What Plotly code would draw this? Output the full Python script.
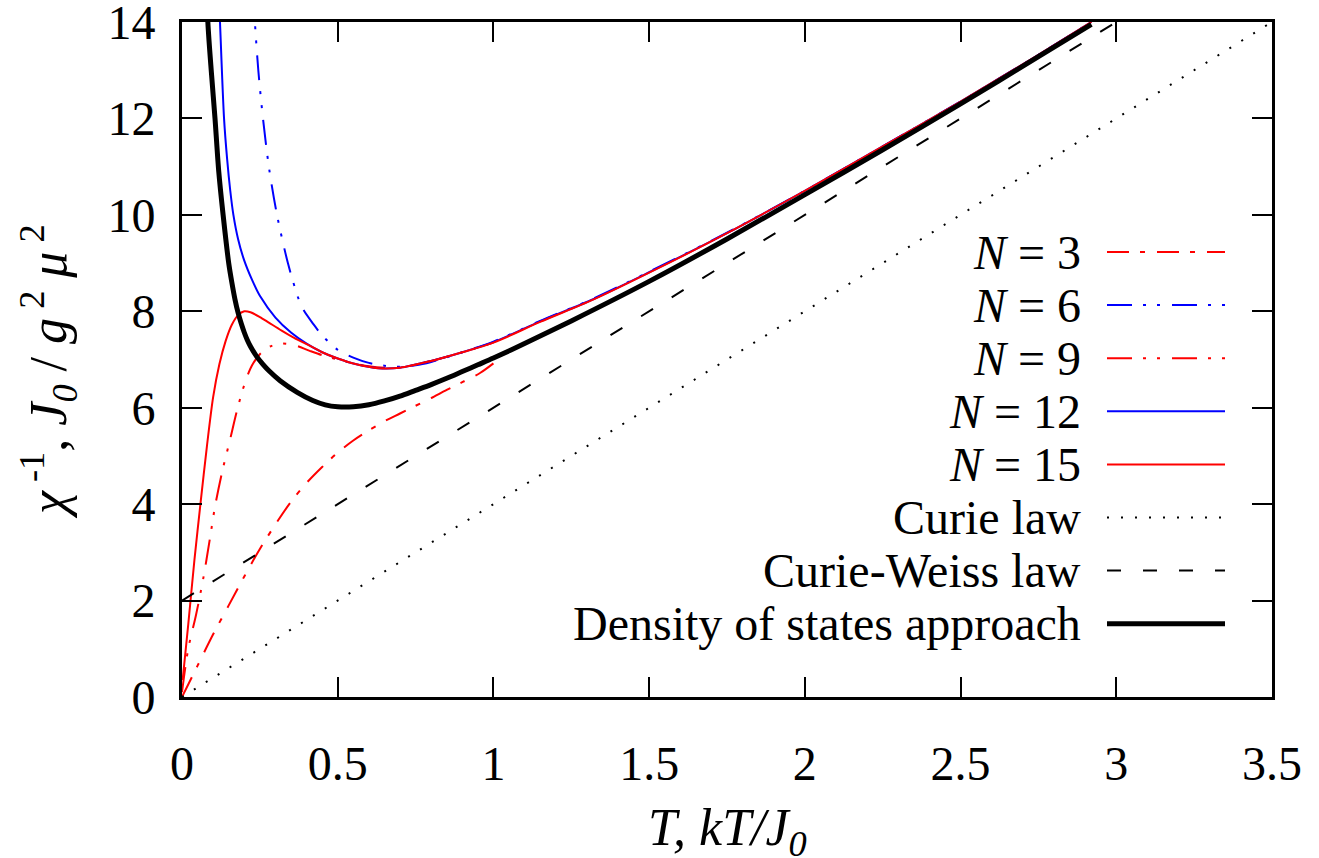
import plotly.graph_objects as go

# ---------------- data ----------------
T_n3 = [0.0, 0.05, 0.1, 0.15, 0.2, 0.25, 0.3, 0.35, 0.4, 0.45, 0.5, 0.55, 0.6, 0.65, 0.7, 0.75, 0.8, 0.85, 0.9, 0.957, 1.0]
chi_n3 = [0.0, 0.65, 1.3, 1.9, 2.5, 3.07, 3.58, 4.05, 4.44, 4.77, 5.07, 5.32, 5.53, 5.72, 5.88, 6.04, 6.2, 6.37, 6.53, 6.72, 6.92]

T_n6 = [0.215, 0.234, 0.245, 0.26, 0.28, 0.305, 0.34, 0.373, 0.39, 0.42, 0.45, 0.5, 0.55, 0.6, 0.65, 0.69, 0.75, 0.8, 0.9, 1.0, 1.15, 1.32, 1.5, 1.75, 2.0, 2.25, 2.5, 2.75, 2.92]
chi_n6 = [16.0, 14.0, 13.0, 12.0, 10.95, 10.0, 9.0, 8.28, 8.03, 7.75, 7.5, 7.2, 7.04, 6.93, 6.87, 6.85, 6.88, 6.95, 7.15, 7.37, 7.8, 8.26, 8.82, 9.63, 10.5, 11.42, 12.35, 13.32, 14.0]

T_n9 = [0.0, 0.02, 0.045, 0.068, 0.09, 0.106, 0.13, 0.154, 0.175, 0.193, 0.21, 0.225, 0.25, 0.283, 0.32, 0.36, 0.41, 0.45, 0.5, 0.55, 0.6, 0.65, 0.7, 0.8, 0.9, 1.0]
chi_n9 = [0.1, 1.0, 1.7, 2.45, 3.3, 3.95, 4.7, 5.33, 5.9, 6.33, 6.66, 6.88, 7.11, 7.27, 7.33, 7.3, 7.18, 7.09, 7.0, 6.92, 6.86, 6.83, 6.83, 6.97, 7.15, 7.35]

T_n12 = [0.11, 0.122, 0.135, 0.145, 0.155, 0.165, 0.18, 0.2, 0.225, 0.25, 0.3, 0.35, 0.4, 0.45, 0.5, 0.56, 0.63, 0.7, 0.8, 0.9, 1.0, 1.15, 1.32, 1.5, 1.75, 2.0, 2.25, 2.5, 2.75, 2.92]
chi_n12 = [16.0, 14.0, 12.0, 11.15, 10.5, 10.0, 9.5, 9.05, 8.65, 8.32, 7.87, 7.56, 7.33, 7.15, 7.02, 6.9, 6.82, 6.83, 6.97, 7.15, 7.36, 7.79, 8.25, 8.81, 9.62, 10.5, 11.42, 12.35, 13.32, 14.0]

T_n15 = [0.002, 0.02, 0.04, 0.06, 0.08, 0.1, 0.12, 0.14, 0.16, 0.18, 0.2, 0.22, 0.25, 0.28, 0.32, 0.36, 0.4, 0.45, 0.5, 0.56, 0.63, 0.7, 0.8, 0.9, 1.0, 1.15, 1.32, 1.5, 1.75, 2.0, 2.25, 2.5, 2.75, 2.92]
chi_n15 = [0.35, 1.5, 2.85, 4.05, 5.2, 6.22, 6.9, 7.38, 7.72, 7.92, 8.0, 7.98, 7.88, 7.76, 7.6, 7.45, 7.32, 7.15, 7.02, 6.9, 6.82, 6.83, 6.97, 7.15, 7.35, 7.78, 8.24, 8.8, 9.62, 10.5, 11.42, 12.35, 13.32, 14.0]

T_dos = [0.07, 0.083, 0.095, 0.106, 0.118, 0.132, 0.15, 0.16, 0.17, 0.18, 0.19, 0.2, 0.21, 0.22, 0.24, 0.26, 0.28, 0.315, 0.37, 0.42, 0.46, 0.5, 0.55, 0.6, 0.65, 0.7, 0.75, 0.8, 0.85, 0.9, 0.95, 1.0, 1.1, 1.25, 1.5, 1.75, 2.0, 2.25, 2.5, 2.75, 2.92]
chi_dos = [16.5, 14.0, 12.9, 12.0, 10.9, 10.0, 9.0, 8.6, 8.25, 7.97, 7.75, 7.56, 7.4, 7.27, 7.06, 6.9, 6.76, 6.56, 6.32, 6.15, 6.06, 6.02, 6.02, 6.06, 6.14, 6.24, 6.36, 6.48, 6.61, 6.75, 6.89, 7.03, 7.33, 7.8, 8.62, 9.5, 10.42, 11.35, 12.3, 13.28, 13.95]

T_curie = [0.0, 3.5]
chi_curie = [0.0, 14.0]

T_cw = [0.0, 3.0]
chi_cw = [2.0, 14.0]

legend_labels = ["<i>N</i> = 3", "<i>N</i> = 6", "<i>N</i> = 9", "<i>N</i> = 12", "<i>N</i> = 15",
                 "Curie law", "Curie-Weiss law", "Density of states approach"]

x_ticks = [0, 0.5, 1, 1.5, 2, 2.5, 3, 3.5]
x_ticklabels = ["0", "0.5", "1", "1.5", "2", "2.5", "3", "3.5"]
y_ticks = [0, 2, 4, 6, 8, 10, 12, 14]
y_ticklabels = ["0", "2", "4", "6", "8", "10", "12", "14"]

x_title = "<i>T, kT/J</i><sub><i>0</i></sub>"
y_title = "<i>χ</i><sup> -1</sup>, <i>J</i><sub><i>0</i></sub> / <i>g</i><sup> 2</sup> <i>μ</i><sup> 2</sup>"

# ---------------- styles ----------------
FONT = "Liberation Serif"
FS = 48
FS_TITLE = 52
DASH_A = "22px,11px,5px,12px"
DASH_B = "25px,11px,3px,11px,3px,12px"
DASH_DOT = "2px,12px"
DASH_CW = "14px,22px"

series = [
    (T_n3, chi_n3, "red", 2, DASH_A),
    (T_n6, chi_n6, "blue", 2, DASH_B),
    (T_n9, chi_n9, "red", 2, DASH_B),
    (T_n12, chi_n12, "blue", 2, "solid"),
    (T_n15, chi_n15, "red", 2, "solid"),
    (T_curie, chi_curie, "black", 2, DASH_DOT),
    (T_cw, chi_cw, "black", 2, DASH_CW),
    (T_dos, chi_dos, "black", 5, "solid"),
]

fig = go.Figure()
for (xs, ys, col, w, dash), name in zip(series, legend_labels):
    fig.add_trace(go.Scatter(x=xs, y=ys, mode="lines", name=name, showlegend=False,
                             line=dict(color=col, width=w, dash=dash, shape="spline", smoothing=0.8)))

W, H = 1319, 858
ML, MR, MT, MB = 182, 47, 22, 161
pw, ph = W - ML - MR, H - MT - MB
def px_x(p):
    return (p - ML) / pw
def px_y(p):
    return (H - MB - p) / ph

# custom legend (text at left, sample at right), gnuplot style
row0, drow = 252, 53.1
for i, ((xs, ys, col, w, dash), name) in enumerate(zip(series, legend_labels)):
    yy = px_y(row0 + i * drow)
    fig.add_annotation(x=px_x(1083), y=yy, xref="paper", yref="paper", text=name,
                       showarrow=False, xanchor="right", yanchor="middle",
                       font=dict(family=FONT, size=FS, color="black"))
    fig.add_shape(type="line", xref="paper", yref="paper", x0=px_x(1107), x1=px_x(1225),
                  y0=yy, y1=yy, line=dict(color=col, width=w, dash=dash))

# axis titles
fig.add_annotation(x=px_x(727), y=px_y(831), xref="paper", yref="paper", text=x_title,
                   showarrow=False, xanchor="center", yanchor="middle",
                   font=dict(family=FONT, size=FS_TITLE, color="black"))
fig.add_annotation(x=px_x(48), y=px_y(372), xref="paper", yref="paper", text=y_title,
                   showarrow=False, xanchor="center", yanchor="middle", textangle=-90,
                   font=dict(family=FONT, size=FS_TITLE, color="black"))

axis_common = dict(showline=True, linecolor="black", linewidth=3, mirror="allticks",
                   ticks="inside", ticklen=20, tickwidth=2, tickcolor="black",
                   showgrid=False, zeroline=False, ticklabeloverflow="allow",
                   tickfont=dict(family=FONT, size=FS, color="black"))

fig.update_xaxes(range=[0, 3.5], tickvals=x_ticks, ticktext=x_ticklabels,
                 ticklabelstandoff=22, **axis_common)
fig.update_yaxes(range=[0, 14], tickvals=y_ticks, ticktext=y_ticklabels,
                 ticklabelstandoff=14, **axis_common)

fig.update_layout(width=W, height=H, margin=dict(l=ML, r=MR, t=MT, b=MB, autoexpand=False),
                  plot_bgcolor="white", paper_bgcolor="white",
                  font=dict(family=FONT, size=FS, color="black"))

fig.write_html("out.html", config={"displayModeBar": False},
               post_script="document.body.style.margin='0px';document.body.style.overflow='hidden';")
